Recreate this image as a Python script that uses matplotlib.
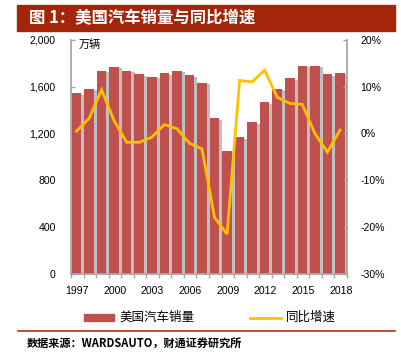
import matplotlib
matplotlib.use("Agg")
import matplotlib.pyplot as plt
import matplotlib.patheffects as pe
from matplotlib.patches import Rectangle
from matplotlib.lines import Line2D
import numpy as np

plt.rcParams['font.family'] = ['Liberation Sans', 'Noto Sans CJK SC', 'DejaVu Sans']

years = list(range(1997, 2019))
sales = [1542, 1582, 1735, 1771, 1735, 1703, 1684, 1715, 1735, 1695, 1633,
         1333, 1051, 1169, 1297, 1469, 1582, 1672, 1777, 1777, 1703, 1715]
growth = [0.5, 3.2, 9.3, 2.7, -1.9, -1.9, -0.8, 1.9, 1.0, -2.1, -3.3,
          -17.9, -21.5, 11.3, 11.0, 13.5, 7.7, 6.4, 6.2, 0.0, -4.0, 0.7]
left_ticks = [0, 400, 800, 1200, 1600, 2000]
right_ticks = [-30, -20, -10, 0, 10, 20]
xlabel_years = [1997, 2000, 2003, 2006, 2009, 2012, 2015, 2018]

title = "图 1：美国汽车销量与同比增速"
unit = "万辆"
legend_bar = "美国汽车销量"
legend_line = "同比增速"
source = "数据来源：WARDSAUTO，财通证券研究所"

W, H = 402, 362
fig = plt.figure(figsize=(W / 100, H / 100), dpi=100)

def fx(px):
    return px / W

def fy(py):
    return 1 - py / H

ax = fig.add_axes([fx(71), fy(274), fx(347) - fx(71), fy(39.7) - fy(274)])
ax2 = ax.twinx()

bar_color = '#C0504D'
line_color = '#FFC000'
spine_color = '#A6A6A6'

x = np.arange(len(years))
ax.bar(x - 0.06, sales, width=0.76, color=bar_color, zorder=2,
       path_effects=[pe.SimplePatchShadow(offset=(2.2, -1.2), shadow_rgbFace='#8c8c8c', alpha=0.55),
                     pe.Normal()])
ax2.plot(x - 0.06, growth, color=line_color, lw=2.0, solid_joinstyle='miter', zorder=3)

ax.set_xlim(-0.5, len(years) - 0.5)
ax.set_ylim(0, 2000)
ax2.set_ylim(-30, 20)

ax.set_yticks(left_ticks)
ax.set_yticklabels([f"{v:,}" for v in left_ticks])
ax2.set_yticks(right_ticks)
ax2.set_yticklabels([f"{v}%" for v in right_ticks])

ax.set_xticks([years.index(y) for y in xlabel_years])
ax.set_xticklabels([str(y) for y in xlabel_years])
ax.set_xticks(np.arange(-0.5, len(years), 1.0), minor=True)

for a in (ax, ax2):
    for s in a.spines.values():
        s.set_color(spine_color)
        s.set_linewidth(1.3)
    a.spines['top'].set_visible(False)

ax.tick_params(axis='x', which='major', length=0, pad=8.5, labelsize=7.6, colors='black')
ax.tick_params(axis='x', which='minor', length=3, width=1, direction='out', color=spine_color)
ax.tick_params(axis='y', direction='in', length=3, width=1, color=spine_color, pad=11,
               labelsize=7.6, labelcolor='black')
ax2.tick_params(axis='y', direction='in', length=3, width=1, color=spine_color, pad=9.5,
                labelsize=7.6, labelcolor='black')
ax.spines['right'].set_visible(False)
ax2.spines['left'].set_visible(False)
ax2.spines['bottom'].set_visible(False)

ax.text(fx(79), fy(45), unit, transform=fig.transFigure, fontsize=8,
        family=['Noto Sans CJK SC'], va='center', ha='left')

# Title bar
fig.patches.append(Rectangle((fx(17), fy(31)), fx(395) - fx(17), fy(5) - fy(31),
                             transform=fig.transFigure, color='#A3260B', zorder=0))
fig.text(fx(29), fy(18), title, color='white', fontsize=11.8, fontweight='bold',
         family=['Noto Sans CJK SC'], va='center', ha='left')

# Legend
fig.patches.append(Rectangle((fx(84), fy(320.5)), fx(114) - fx(84), fy(313.5) - fy(320.5),
                             transform=fig.transFigure, color=bar_color))
fig.text(fx(119), fy(317.5), legend_bar, fontsize=9, family=['Noto Sans CJK SC'],
         va='center', ha='left')
fig.lines.append(Line2D([fx(250), fx(281)], [fy(317.5), fy(317.5)], transform=fig.transFigure,
                        color=line_color, lw=2.0))
fig.text(fx(286), fy(317.5), legend_line, fontsize=9, family=['Noto Sans CJK SC'],
         va='center', ha='left')

# Separator line
fig.lines.append(Line2D([fx(18), fx(395)], [fy(330.5), fy(330.5)], transform=fig.transFigure,
                        color='#B5432C', lw=1.3))

fig.text(fx(27), fy(343), source, fontsize=8, fontweight='bold',
         family=['Noto Sans CJK SC'], va='center', ha='left')

fig.savefig('out.png', dpi=100)
